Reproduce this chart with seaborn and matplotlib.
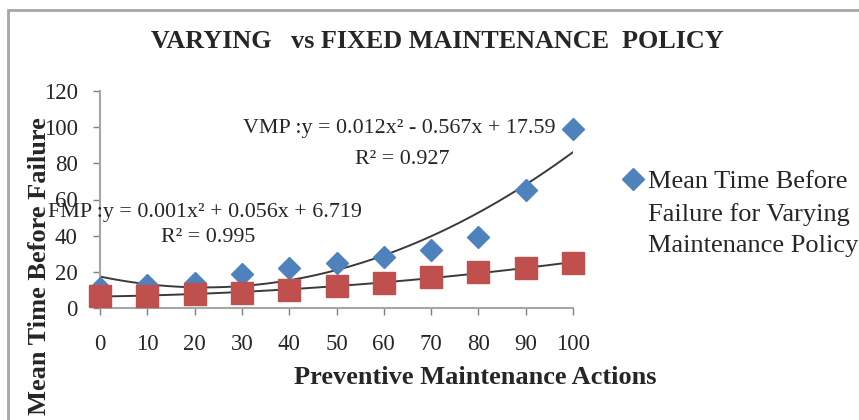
import numpy as np
import pandas as pd
import matplotlib
matplotlib.use("Agg")
import matplotlib.pyplot as plt
from matplotlib.patches import Rectangle
import seaborn as sns

# preventive maintenance actions
pm_actions = [0, 10, 20, 30, 40, 50, 60, 70, 80, 90, 100]
# mean time before failure, varying maintenance policy (VMP)
mtbf_varying = [11, 12.7, 13.8, 19, 22, 25, 28, 32, 39, 65, 99]
# mean time before failure, fixed maintenance policy (FMP)
mtbf_fixed = [6.6, 6.8, 8, 8.5, 10, 12, 14, 17, 20, 22, 25]

y_ticks = [0, 20, 40, 60, 80, 100, 120]
x_ticks = pm_actions

titulo = "VARYING   vs FIXED MAINTENANCE  POLICY"
eq_vmp = "VMP :y = 0.012x² - 0.567x + 17.59"
r2_vmp = "R² = 0.927"
eq_fmp = "FMP :y = 0.001x² + 0.056x + 6.719"
r2_fmp = "R² = 0.995"
leyenda = "Mean Time Before\nFailure for Varying\nMaintenance Policy"

AZUL = "#4f81bd"
ROJO = "#c0504d"
GRIS = "#a6a6a6"

df = pd.DataFrame({"pm": pm_actions, "vmp": mtbf_varying, "fmp": mtbf_fixed})

sns.set_theme(style="white")
plt.rcParams["font.family"] = ["Liberation Serif", "DejaVu Serif"]

W, H = 859, 420
fig = plt.figure(figsize=(W / 100, H / 100), dpi=100)
ax = fig.add_axes([100 / W, 1 - 308 / H, 473 / W, 217 / H])

# marco del grafico
fig.patches.append(Rectangle((8 / W, -0.1), 1.2, 1 - 10 / H + 0.1, transform=fig.transFigure,
                             fill=False, edgecolor=GRIS, linewidth=2))

# lineas de tendencia polinomicas (orden 2)
sns.regplot(data=df, x="pm", y="vmp", order=2, ci=None, scatter=False, ax=ax,
            line_kws={"color": "#3a3a3a", "linewidth": 1.4})
sns.regplot(data=df, x="pm", y="fmp", order=2, ci=None, scatter=False, ax=ax,
            line_kws={"color": "#3a3a3a", "linewidth": 1.4})

ax.plot(df["pm"], df["vmp"], linestyle="none", marker="D", markersize=11,
        color=AZUL, clip_on=False, zorder=3, label=leyenda)
ax.plot(df["pm"], df["fmp"], linestyle="none", marker="s", markersize=16,
        color=ROJO, clip_on=False, zorder=4)

ax.set_xlim(0, 100)
ax.set_ylim(0, 120)
ax.set_xticks(x_ticks)
ax.set_yticks(y_ticks)
ax.set_xlabel("")
ax.set_ylabel("")
for s in ["top", "right"]:
    ax.spines[s].set_visible(False)
for s in ["left", "bottom"]:
    ax.spines[s].set_color(GRIS)
    ax.spines[s].set_linewidth(1.5)
ax.tick_params(axis="x", length=5, width=1, color="#808080", direction="out",
               pad=14, labelsize=16.5, bottom=True)
ax.tick_params(axis="y", length=5, width=1, color="#808080", direction="out",
               pad=11, labelsize=16.5, left=True)

fig.text(437 / W, 1 - 42 / H, titulo, ha="center", va="center",
         fontsize=18.8, fontweight="bold")
fig.text(475 / W, 1 - 377 / H, "Preventive Maintenance Actions", ha="center",
         va="center", fontsize=19, fontweight="bold")
fig.text(40 / W, 1 - 117 / H, "Mean Time Before Failure", rotation=90,
         ha="center", va="top", fontsize=19, fontweight="bold")

fig.text(399 / W, 1 - 129 / H, eq_vmp, ha="center", va="center", fontsize=15.8)
fig.text(402 / W, 1 - 160 / H, r2_vmp, ha="center", va="center", fontsize=15.8)
fig.text(205 / W, 1 - 213 / H, eq_fmp, ha="center", va="center", fontsize=15.8)
fig.text(208 / W, 1 - 238 / H, r2_fmp, ha="center", va="center", fontsize=15.8)

handles, labels = ax.get_legend_handles_labels()
leg = fig.legend(handles[:1], labels[:1], loc="upper left",
                 bbox_to_anchor=(622 / W, 1 - 171 / H), frameon=False,
                 fontsize=19, handlelength=0.8, handletextpad=0.2,
                 borderpad=0, borderaxespad=0)
for t in leg.get_texts():
    t.set_linespacing(1.55)
# el marcador de la leyenda va a la altura de la primera linea
marca = leg.legend_handles[0]
marca.set_ydata(np.asarray(marca.get_ydata()) + 25)

fig.savefig("out.png", dpi=100)
